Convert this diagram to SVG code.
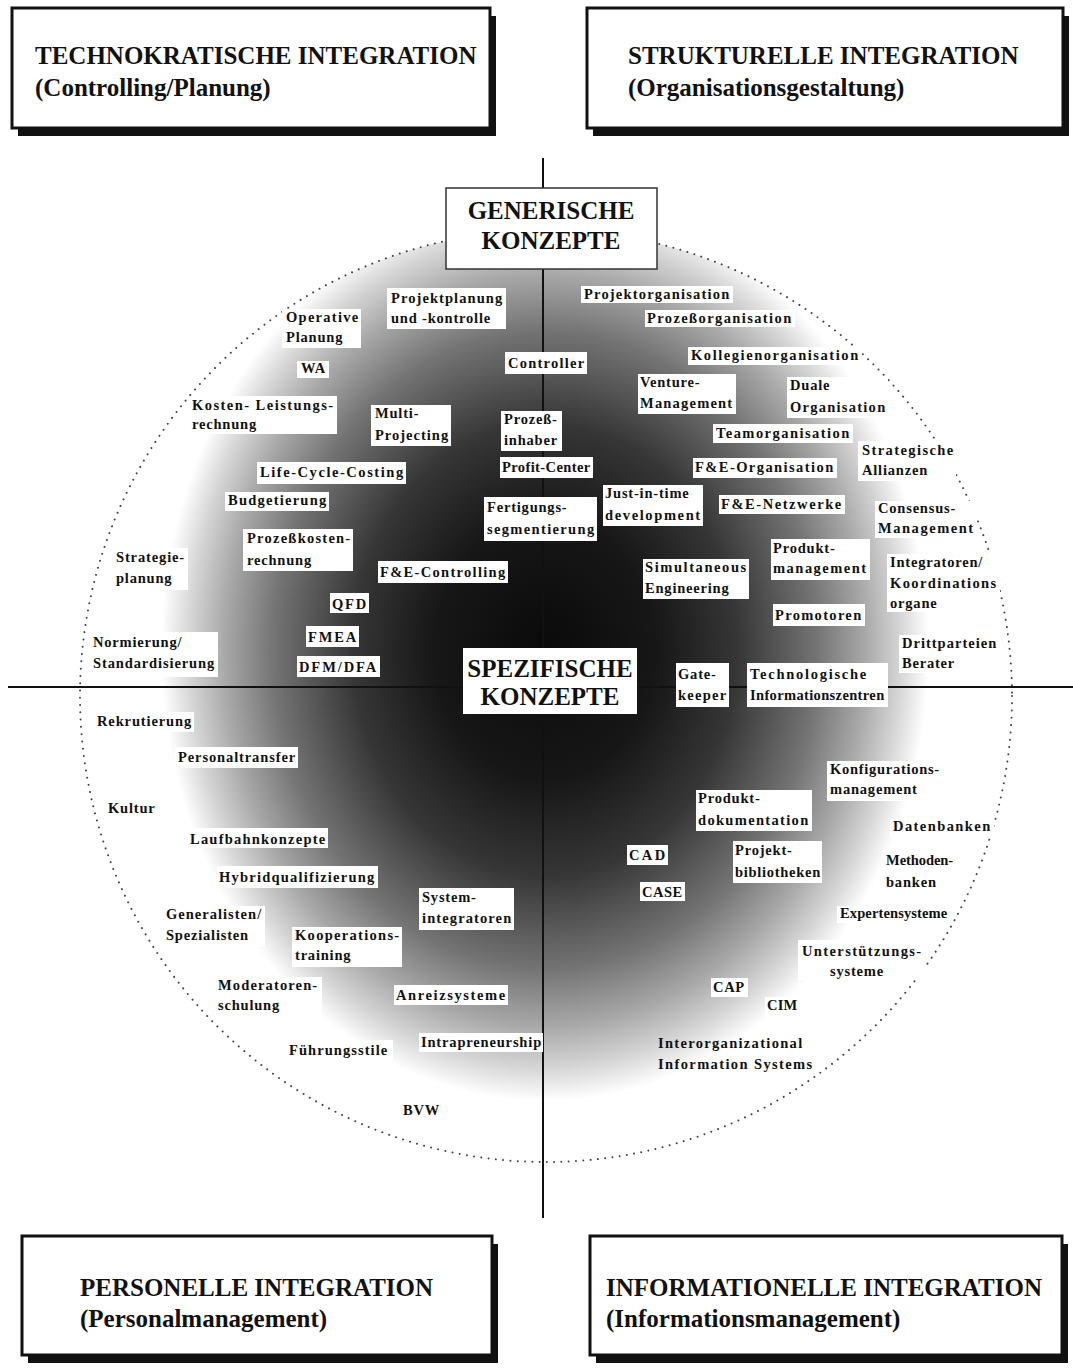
<svg xmlns="http://www.w3.org/2000/svg" width="1073" height="1369" viewBox="0 0 1073 1369">
<defs>
<style>
.big{font-family:"Liberation Serif",serif;font-size:25px;font-weight:bold;fill:#111}
.lbl rect{fill:#fff}
.lbl text{font-family:"Liberation Serif",serif;font-size:14.5px;font-weight:bold;letter-spacing:0.8px;fill:#111}
.frame{fill:#fff;stroke:#111;stroke-width:3}
.shadow{fill:#111}
.axis{stroke:#111;stroke-width:2;fill:none}
</style>
<radialGradient id="shade" cx="0.5" cy="0.5" r="0.5">
<stop offset="0" stop-color="#0a0a0a"/>
<stop offset="0.28" stop-color="#171717"/>
<stop offset="0.48" stop-color="#363636"/>
<stop offset="0.68" stop-color="#747474"/>
<stop offset="0.8" stop-color="#a8a8a8"/>
<stop offset="0.89" stop-color="#d6d6d6"/>
<stop offset="0.96" stop-color="#fff"/>
<stop offset="1" stop-color="#fff"/>
</radialGradient>
<clipPath id="circ"><circle cx="546" cy="696" r="466"/></clipPath>
</defs>
<rect width="1073" height="1369" fill="#fff"/>

<g id="technokratische">
<rect class="shadow" x="18" y="16" width="478" height="120"/>
<rect class="frame" x="12" y="8" width="478" height="120"/>
<text class="big" x="35" y="64">TECHNOKRATISCHE INTEGRATION</text>
<text class="big" x="35" y="96">(Controlling/Planung)</text>
</g>
<g id="strukturelle">
<rect class="shadow" x="593" y="16" width="476" height="120"/>
<rect class="frame" x="587" y="8" width="476" height="120"/>
<text class="big" x="628" y="64">STRUKTURELLE INTEGRATION</text>
<text class="big" x="628" y="96">(Organisationsgestaltung)</text>
</g>
<g id="personelle">
<rect class="shadow" x="28" y="1244" width="470" height="119"/>
<rect class="frame" x="22" y="1236" width="470" height="119"/>
<text class="big" x="80" y="1296">PERSONELLE INTEGRATION</text>
<text class="big" x="80" y="1327">(Personalmanagement)</text>
</g>
<g id="informationelle">
<rect class="shadow" x="596" y="1244" width="472" height="119"/>
<rect class="frame" x="590" y="1236" width="472" height="119"/>
<text class="big" x="606" y="1296">INFORMATIONELLE INTEGRATION</text>
<text class="big" x="606" y="1327">(Informationsmanagement)</text>
</g>

<g id="shading" clip-path="url(#circ)">
<ellipse cx="545" cy="650" rx="400" ry="470" fill="url(#shade)"/>
</g>
<circle id="boundary" cx="546" cy="696" r="466" fill="none" stroke="#444" stroke-width="2" stroke-linecap="round" stroke-dasharray="0.01 7.3"/>

<g id="connectors">
<line class="axis" x1="543" y1="158" x2="543" y2="1218"/>
<line class="axis" x1="8" y1="687" x2="1073" y2="687"/>
</g>

<g id="generische">
<rect x="446" y="188" width="211" height="81" fill="#fff" stroke="#333" stroke-width="1.5"/>
<text class="big" x="551" y="219" text-anchor="middle">GENERISCHE</text>
<text class="big" x="551" y="249" text-anchor="middle">KONZEPTE</text>
</g>

<g class="lbl">
<g id="projektplanung"><rect x="387" y="288" width="119" height="41"/><text x="391" y="303" textLength="112">Projektplanung</text><text x="391" y="323">und -kontrolle</text></g>
<g id="operative"><rect x="282" y="309" width="79" height="39"/><text x="286" y="322" textLength="73">Operative</text><text x="286" y="342">Planung</text></g>
<g id="wa"><rect x="297" y="361" width="32" height="17"/><text x="301" y="373">WA</text></g>
<g id="kosten"><rect x="188" y="396" width="149" height="38"/><text x="192" y="410" textLength="142">Kosten- Leistungs-</text><text x="192" y="429">rechnung</text></g>
<g id="multi"><rect x="371" y="405" width="80" height="41"/><text x="375" y="418">Multi-</text><text x="375" y="440" textLength="74">Projecting</text></g>
<g id="controller"><rect x="505" y="352" width="82" height="22"/><text x="508" y="368" textLength="77">Controller</text></g>
<g id="prozessinhaber"><rect x="501" y="411" width="61" height="40"/><text x="504" y="424">Prozeß-</text><text x="504" y="445">inhaber</text></g>
<g id="profitcenter"><rect x="500" y="457" width="93" height="21"/><text x="502" y="472" textLength="89">Profit-Center</text></g>
<g id="lifecycle"><rect x="257" y="462" width="149" height="22"/><text x="260" y="477" textLength="144">Life-Cycle-Costing</text></g>
<g id="budgetierung"><rect x="225" y="492" width="104" height="19"/><text x="228" y="505" textLength="99">Budgetierung</text></g>
<g id="prozesskosten"><rect x="243" y="529" width="110" height="42"/><text x="247" y="543" textLength="104">Prozeßkosten-</text><text x="247" y="565">rechnung</text></g>
<g id="fertigung"><rect x="484" y="497" width="113" height="44"/><text x="487" y="512">Fertigungs-</text><text x="487" y="534" textLength="108">segmentierung</text></g>
<g id="strategieplanung"><rect x="112" y="548" width="76" height="42"/><text x="116" y="562" textLength="69">Strategie-</text><text x="116" y="583">planung</text></g>
<g id="fecontrolling"><rect x="378" y="561" width="130" height="22"/><text x="380" y="577" textLength="126">F&amp;E-Controlling</text></g>
<g id="qfd"><rect x="330" y="593" width="39" height="20"/><text x="332" y="609" textLength="35">QFD</text></g>
<g id="fmea"><rect x="306" y="626" width="53" height="21"/><text x="308" y="642" textLength="49">FMEA</text></g>
<g id="dfm"><rect x="297" y="656" width="83" height="21"/><text x="299" y="672" textLength="78">DFM/DFA</text></g>
<g id="normierung"><rect x="89" y="632" width="129" height="45"/><text x="93" y="647">Normierung/</text><text x="93" y="668" textLength="122">Standardisierung</text></g>

<g id="projektorganisation"><rect x="581" y="286" width="152" height="17"/><text x="584" y="299" textLength="146">Projektorganisation</text></g>
<g id="prozessorganisation"><rect x="645" y="310" width="150" height="17"/><text x="647" y="323" textLength="145">Prozeßorganisation</text></g>
<g id="kollegien"><rect x="688" y="347" width="174" height="18"/><text x="691" y="360" textLength="168">Kollegienorganisation</text></g>
<g id="venture"><rect x="638" y="374" width="98" height="40"/><text x="640" y="387">Venture-</text><text x="640" y="408" textLength="93">Management</text></g>
<g id="duale"><rect x="787" y="377" width="101" height="41"/><text x="790" y="390">Duale</text><text x="790" y="412" textLength="96">Organisation</text></g>
<g id="team"><rect x="713" y="424" width="140" height="19"/><text x="716" y="438" textLength="134">Teamorganisation</text></g>
<g id="allianzen"><rect x="858" y="441" width="98" height="40"/><text x="862" y="455" textLength="92">Strategische</text><text x="862" y="475">Allianzen</text></g>
<g id="feorganisation"><rect x="693" y="458" width="144" height="20"/><text x="695" y="472" textLength="139">F&amp;E-Organisation</text></g>
<g id="jit"><rect x="603" y="485" width="100" height="41"/><text x="605" y="498">Just-in-time</text><text x="605" y="520" textLength="96">development</text></g>
<g id="fenetzwerke"><rect x="719" y="495" width="126" height="19"/><text x="721" y="509" textLength="121">F&amp;E-Netzwerke</text></g>
<g id="consensus"><rect x="875" y="501" width="102" height="37"/><text x="878" y="513">Consensus-</text><text x="878" y="533" textLength="96">Management</text></g>
<g id="produktmanagement"><rect x="771" y="539" width="99" height="41"/><text x="773" y="553">Produkt-</text><text x="773" y="573" textLength="94">management</text></g>
<g id="simultaneous"><rect x="643" y="559" width="106" height="40"/><text x="645" y="572" textLength="102">Simultaneous</text><text x="645" y="593">Engineering</text></g>
<g id="integratoren"><rect x="887" y="554" width="113" height="58"/><text x="890" y="567">Integratoren/</text><text x="890" y="588" textLength="107">Koordinations</text><text x="890" y="608">organe</text></g>
<g id="promotoren"><rect x="773" y="604" width="92" height="22"/><text x="775" y="620" textLength="87">Promotoren</text></g>
<g id="drittparteien"><rect x="899" y="635" width="101" height="38"/><text x="902" y="648" textLength="95">Drittparteien</text><text x="902" y="668">Berater</text></g>
<g id="gatekeeper"><rect x="676" y="663" width="53" height="44"/><text x="678" y="679">Gate-</text><text x="678" y="700" textLength="49">keeper</text></g>
<g id="techinfo"><rect x="747" y="663" width="141" height="44"/><text x="750" y="679" textLength="117">Technologische</text><text x="750" y="700" textLength="135">Informationszentren</text></g>

<g id="rekrutierung"><rect x="93" y="712" width="101" height="20"/><text x="97" y="726" textLength="95">Rekrutierung</text></g>
<g id="personaltransfer"><rect x="175" y="747" width="123" height="21"/><text x="178" y="762" textLength="118">Personaltransfer</text></g>
<g id="kultur"><text x="108" y="813">Kultur</text></g>
<g id="laufbahn"><rect x="188" y="828" width="140" height="20"/><text x="190" y="844" textLength="136">Laufbahnkonzepte</text></g>
<g id="hybrid"><rect x="217" y="866" width="161" height="22"/><text x="219" y="882" textLength="156">Hybridqualifizierung</text></g>
<g id="systemintegratoren"><rect x="419" y="888" width="95" height="42"/><text x="422" y="902">System-</text><text x="422" y="923" textLength="90">integratoren</text></g>
<g id="generalisten"><rect x="163" y="906" width="102" height="41"/><text x="166" y="919" textLength="96">Generalisten/</text><text x="166" y="940">Spezialisten</text></g>
<g id="kooperation"><rect x="292" y="927" width="110" height="40"/><text x="295" y="940" textLength="105">Kooperations-</text><text x="295" y="960">training</text></g>
<g id="moderatoren"><rect x="216" y="977" width="106" height="40"/><text x="218" y="990" textLength="100">Moderatoren-</text><text x="218" y="1010">schulung</text></g>
<g id="anreiz"><rect x="394" y="985" width="114" height="20"/><text x="396" y="1000" textLength="110">Anreizsysteme</text></g>
<g id="intrapreneurship"><rect x="419" y="1033" width="124" height="19"/><text x="421" y="1047" textLength="121">Intrapreneurship</text></g>
<g id="fuehrung"><rect x="285" y="1040" width="108" height="20"/><text x="289" y="1055" textLength="99">Führungsstile</text></g>
<g id="bvw"><text x="403" y="1115">BVW</text></g>

<g id="konfiguration"><rect x="827" y="761" width="115" height="40"/><text x="830" y="774" textLength="110">Konfigurations-</text><text x="830" y="794">management</text></g>
<g id="produktdoku"><rect x="696" y="790" width="116" height="41"/><text x="698" y="803">Produkt-</text><text x="698" y="825" textLength="111">dokumentation</text></g>
<g id="datenbanken"><rect x="890" y="820" width="104" height="17"/><text x="893" y="831" textLength="98">Datenbanken</text></g>
<g id="cad"><rect x="627" y="845" width="41" height="20"/><text x="629" y="860" textLength="37">CAD</text></g>
<g id="projektbib"><rect x="733" y="841" width="89" height="42"/><text x="735" y="855">Projekt-</text><text x="735" y="877" textLength="86">bibliotheken</text></g>
<g id="methoden"><rect x="883" y="852" width="74" height="40"/><text x="886" y="865" textLength="68">Methoden-</text><text x="886" y="887">banken</text></g>
<g id="case"><rect x="640" y="882" width="45" height="19"/><text x="642" y="897" textLength="41">CASE</text></g>
<g id="experten"><rect x="837" y="906" width="113" height="17"/><text x="840" y="918" textLength="108">Expertensysteme</text></g>
<g id="unterstuetzung"><rect x="798" y="940" width="127" height="40"/><text x="802" y="956" textLength="120">Unterstützungs-</text><text x="830" y="976">systeme</text></g>
<g id="cap"><rect x="711" y="978" width="37" height="19"/><text x="713" y="992" textLength="32">CAP</text></g>
<g id="cim"><rect x="765" y="997" width="35" height="17"/><text x="767" y="1010" textLength="31">CIM</text></g>
<g id="interorg"><text x="658" y="1048" textLength="145">Interorganizational</text><text x="658" y="1069" textLength="155">Information Systems</text></g>
</g>

<g id="spezifische">
<rect x="463" y="648" width="174" height="66" fill="#fff"/>
<text class="big" x="550" y="677" text-anchor="middle">SPEZIFISCHE</text>
<text class="big" x="550" y="705" text-anchor="middle">KONZEPTE</text>
</g>
</svg>
